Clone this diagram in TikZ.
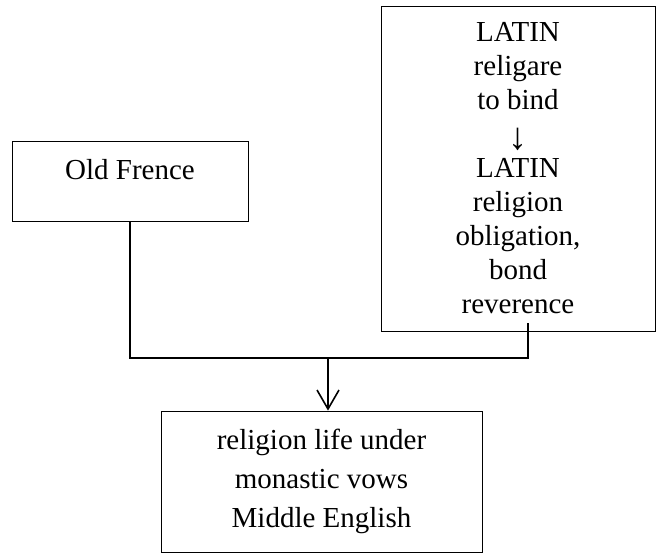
\documentclass[tikz,border=0pt]{standalone}
\usepackage{fontspec}
\setmainfont{Liberation Serif}
\usetikzlibrary{arrows.meta,positioning}

\begin{document}
\begin{tikzpicture}[x=1pt,y=1pt,
            box/.style={draw=black,line width=0.8pt,inner sep=0pt,align=center,
                        font=\fontsize{29}{34}\selectfont},
            link/.style={line width=1.6pt,draw=black},
            arrow/.style={link,-{Straight Barb[length=19pt,width=22pt]}}]
            \useasboundingbox (0,0) rectangle (657,-554);
            \node[box,minimum width=236pt,text height=38pt,text depth=42pt] (old) at (130,-181) {Old Frence};
            \node[box,minimum width=274pt,minimum height=325pt] (latin) at (518,-168.5)
                {LATIN\\religare\\to bind\\\smash{\raisebox{-6pt}{\fontsize{38}{34}\selectfont ↓}}\\LATIN\\religion\\obligation,\\bond\\reverence};
            \node[box,minimum width=321pt,minimum height=141pt] (middle) at (321.5,-481.5)
                {religion life under\\[5pt]monastic vows\\[5pt]Middle English};
            \coordinate (join) at (328,-358);
            \coordinate (tap) at ([xshift=10pt]latin.south);
            \draw[link] (old.south) |- (tap |- join) -- ([yshift=8pt]tap);
            \draw[arrow] (join) -- (join |- middle.north);
        \end{tikzpicture}
\end{document}
